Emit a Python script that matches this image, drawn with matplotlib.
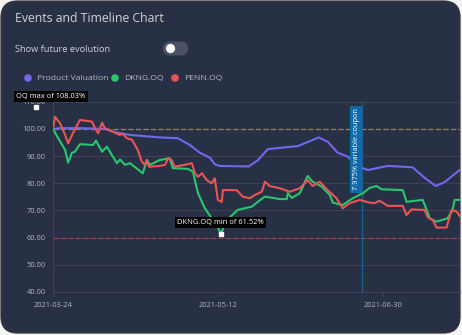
import matplotlib
matplotlib.use('Agg')
import matplotlib.pyplot as plt
import matplotlib.patches as mpatches
import pandas as pd

# series (day offset from start, value in %)
start = pd.Timestamp('2021-03-24')

pv_days = [0, 2.1, 8, 15.4, 18.4, 22.9, 31.8, 37.1, 40.7, 43.7, 46.6, 48.1, 49.6, 58.2, 60.9,
           63.9, 72.8, 76.9, 79.0, 81.7, 84.6, 87.6, 90.9, 93.6, 99.5, 106.9, 110.5, 113.8,
           116.5, 121.2]
pv_vals = [100.0, 100.3, 100.3, 100.0, 98.8, 97.8, 96.9, 96.6, 94.1, 91.2, 89.5, 87.0, 86.4,
           86.2, 88.5, 92.6, 93.7, 95.8, 96.9, 95.3, 91.3, 89.8, 86.1, 84.9, 86.4, 85.9, 82.0,
           79.0, 80.5, 85.2]

dkng_days = [0, 1.5, 3.6, 4.5, 5.6, 6.5, 8.0, 11.9, 12.8, 14.6, 16.0, 19.0, 19.9, 21.4, 22.9,
             26.7, 27.9, 28.8, 31.8, 34.7, 35.6, 40.1, 41.6, 43.1, 45.1, 47.5, 49.0, 49.9, 51.7,
             54.9, 59.1, 60.9, 63.0, 67.4, 69.5, 69.8, 71.0, 73.4, 75.7, 77.2, 79.9, 82.3, 83.2,
             86.1, 89.1, 92.1, 94.1, 96.2, 97.7, 104.0, 105.1, 109.9, 111.1, 112.0, 114.0, 117.3,
             118.8, 119.4, 121.2]
dkng_vals = [100, 96.7, 92.3, 87.6, 91.2, 91.6, 94.4, 94.1, 95.7, 91.6, 93.5, 87.4, 88.8, 86.8,
             87.4, 83.7, 88.6, 86.8, 88.6, 89.2, 85.6, 85.3, 84.3, 76.4, 70.9, 66.5, 63.6, 61.52,
             66.5, 70.2, 71.4, 73.2, 75.1, 74.2, 74.2, 76.4, 74.6, 76.4, 82.7, 80.6, 78.8, 75.7,
             72.9, 72.0, 74.5, 76.3, 78.3, 79.0, 77.8, 77.5, 73.2, 73.9, 70.2, 67.1, 65.9, 67.1,
             70.2, 73.9, 73.9]

penn_days = [0, 0.6, 2.1, 3.6, 4.5, 5.9, 8.0, 11.6, 12.5, 13.4, 14.6, 15.4, 17.8, 19.9, 20.5,
             22.0, 23.5, 25.2, 26.4, 27.3, 27.9, 28.5, 31.8, 33.3, 34.2, 35.3, 36.2, 39.2, 41.3,
             42.2, 43.1, 44.3, 45.7, 47.2, 48.1, 49.0, 50.2, 50.5, 54.6, 56.4, 58.5, 60.0, 62.1,
             63.0, 64.4, 67.4, 70.4, 73.4, 75.7, 77.2, 79.3, 81.4, 84.3, 86.1, 88.2, 91.2, 94.1,
             95.6, 97.1, 99.5, 104.0, 105.1, 106.6, 110.5, 111.4, 112.9, 114.0, 117.0, 118.5,
             120.0, 121.2]
penn_vals = [100, 104.5, 102.1, 97.8, 94.7, 98.4, 103.3, 102.7, 100.3, 98.4, 102.3, 100.3, 99.0,
             97.8, 98.4, 96.6, 96.0, 92.3, 88.0, 86.8, 88.6, 86.1, 86.4, 86.8, 89.2, 88.6, 86.1,
             86.8, 87.4, 83.7, 82.4, 83.7, 81.2, 80.0, 81.9, 73.9, 73.2, 77.5, 77.5, 75.1, 74.5,
             75.7, 76.9, 80.6, 79.0, 78.2, 76.9, 78.2, 81.2, 79.0, 80.6, 77.8, 74.5, 70.8, 72.7,
             73.9, 72.9, 72.7, 73.6, 71.7, 71.7, 68.3, 70.4, 70.2, 67.5, 66.5, 63.7, 63.7, 70.2,
             69.6, 67.5]

names = ['Product Valuation', 'DKNG.OQ', 'PENN.OQ']
colors = ['#7367f0', '#28c76f', '#ea5455']
xtick_labels = ['2021-03-24', '2021-05-12', '2021-06-30']
yticks = [40, 50, 60, 70, 80, 90, 100, 110]
initial_level = 100
barrier_level = 60
coupon_date = '2021-06-24'
coupon_text = '7.975% variable coupon'
max_day, max_val = -5, 108.03
min_day, min_val = 49.9, 61.52

bg_col = '#283046'
txt_col = '#d0d2d6'
muted = '#b4b7bd'
grid_col = '#3b4253'


def to_dates(days):
    return start + pd.to_timedelta(days, unit='D')


fig = plt.figure(figsize=(4.62, 3.35), dpi=100)
fig.patch.set_facecolor('#f4f4f6')

# card background in pixel coordinates
bg = fig.add_axes([0, 0, 1, 1])
bg.set_xlim(0, 462)
bg.set_ylim(335, 0)
bg.axis('off')
bg.add_patch(mpatches.FancyBboxPatch((1.5, 1.5), 458, 331,
                                     boxstyle='round,pad=0,rounding_size=16',
                                     fc=bg_col, ec='#30333b', lw=1.6))
bg.text(15, 18, 'Events and Timeline Chart', color=txt_col, fontsize=8.8,
        va='center', family='Open Sans')
bg.text(15, 50, 'Show future evolution', color=txt_col, fontsize=6.7,
        va='center', family='Open Sans')
bg.add_patch(mpatches.FancyBboxPatch((163, 41.5), 25, 14,
                                     boxstyle='round,pad=0,rounding_size=7',
                                     fc='#4c5264', ec='none'))
bg.add_patch(mpatches.Circle((170.5, 48.5), 4.6, fc='white', ec='none'))

legend_x = [28, 115, 175]
for lx, name, col in zip(legend_x, names, colors):
    bg.add_patch(mpatches.Circle((lx, 78), 3.8, fc=col, ec='none'))
    bg.text(lx + 9, 78.5, name, color=muted, fontsize=6.1, va='center', family='Open Sans')

# main chart
ax = fig.add_axes([53 / 462, 43 / 335, (460 - 53) / 462, (292 - 101.8) / 335])
ax.set_facecolor('none')

series = [(pv_days, pv_vals), (dkng_days, dkng_vals), (penn_days, penn_vals)]
for (d, v), col in zip(series, colors):
    ax.plot(to_dates(d), v, color=col, lw=1.5, zorder=3, solid_joinstyle='round')

ax.axhline(initial_level, color='#8f8a5e', lw=0.9, ls=(0, (4, 2)), zorder=2)
ax.axhline(barrier_level, color='#b8334a', lw=0.9, ls=(0, (4, 2)), zorder=2)
ax.axvline(pd.Timestamp(coupon_date), color='#1d5f92', lw=0.9, zorder=2)

ax.set_xlim(start, start + pd.Timedelta(days=121.0))
ax.set_ylim(40, 110)
ax.set_yticks(yticks)
ax.set_yticklabels(['%.2f' % t for t in yticks])
ax.set_xticks(pd.to_datetime(xtick_labels))
ax.set_xticklabels(xtick_labels)
ax.yaxis.grid(True, color=grid_col, lw=0.8)
ax.set_axisbelow(True)
for s in ['top', 'right']:
    ax.spines[s].set_visible(False)
for s in ['left', 'bottom']:
    ax.spines[s].set_color(grid_col)
ax.tick_params(axis='y', length=0, pad=5, labelcolor=muted, labelsize=5.4)
ax.tick_params(axis='x', length=3, color=grid_col, pad=4, labelcolor=muted, labelsize=5.4)
for lab in ax.get_xticklabels() + ax.get_yticklabels():
    lab.set_family('Open Sans')

# coupon event label
ax.text(pd.Timestamp(coupon_date) - pd.Timedelta(days=1.8), 92.5, coupon_text,
        rotation=90, ha='center', va='center', color='white', fontsize=5.3,
        family='Open Sans', zorder=5,
        bbox=dict(boxstyle='square,pad=0.35', fc='#0e6aa8', ec='none'))

# min / max markers
ax.plot(to_dates([min_day]), [min_val], 's', ms=2.6, color='white', zorder=6)
ax.text(to_dates([min_day])[0], 65.6, 'DKNG.OQ min of %.2f%%' % min_val,
        ha='center', va='center', color='white', fontsize=5.4, family='Open Sans',
        zorder=6, bbox=dict(boxstyle='square,pad=0.3', fc='black', ec='none'))
ax.plot(to_dates([max_day]), [max_val], 's', ms=2.6, color='white', zorder=6, clip_on=False)
ax.text(start - pd.Timedelta(days=11), 112, 'OQ max of %.2f%%' % max_val,
        ha='left', va='center', color='white', fontsize=5.4, family='Open Sans',
        zorder=6, clip_on=False,
        bbox=dict(boxstyle='square,pad=0.3', fc='black', ec='none'))

fig.savefig('out.png', dpi=100, facecolor=fig.get_facecolor())
